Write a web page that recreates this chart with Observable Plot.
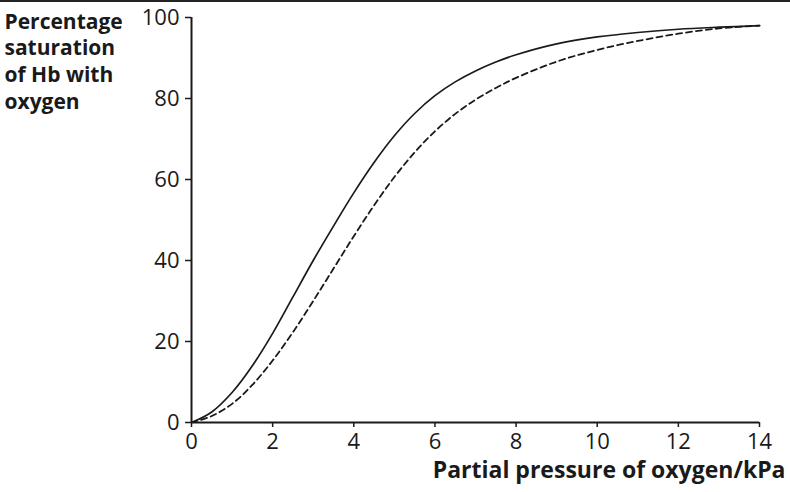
<!DOCTYPE html>
<html>
<head>
<meta charset="utf-8">
<script src="https://cdn.jsdelivr.net/npm/d3@7"></script>
<script src="https://cdn.jsdelivr.net/npm/@observablehq/plot@0.6"></script>
<style>
  html, body { margin: 0; padding: 0; background: #fff; }
  #wrap { position: relative; width: 790px; height: 492px; overflow: hidden; }
  #topline { position: absolute; left: 0; top: 0; width: 790px; height: 2px; background: #222; }
</style>
</head>
<body>
<div id="wrap"><div id="topline"></div></div>
<script>
// Oxygen dissociation curves of haemoglobin
const pressureSolid = [0, 0.5, 1, 1.5, 2, 2.5, 3, 3.5, 4, 4.5, 5, 5.5, 6, 6.5, 7, 7.5, 8, 9, 10, 11, 12, 13, 14];
const saturationSolid = [0, 2.6, 7.4, 14, 22, 31, 40, 48.5, 56.7, 64.2, 70.8, 76.3, 80.7, 84.1, 86.8, 89, 90.8, 93.5, 95.2, 96.3, 97.1, 97.6, 98];

const pressureDashed = [0, 0.5, 1, 1.5, 2, 2.5, 3, 3.5, 4, 4.5, 5, 5.5, 6, 6.5, 7, 7.5, 8, 9, 10, 11, 12, 13, 14];
const saturationDashed = [0, 1.6, 4.6, 9.3, 15.3, 22.3, 30, 38, 46, 53.6, 60.6, 66.7, 71.9, 76.2, 79.7, 82.6, 85.1, 89.1, 92, 94.2, 96, 97.3, 98];

const xTicks = [0, 2, 4, 6, 8, 10, 12, 14];
const yTicks = [0, 20, 40, 60, 80, 100];

const yTitle = "Percentage\nsaturation\nof Hb with\noxygen";
const xTitle = "Partial pressure of oxygen/kPa";

const solid = pressureSolid.map((p, i) => ({p, s: saturationSolid[i]}));
const dashed = pressureDashed.map((p, i) => ({p, s: saturationDashed[i]}));

const ink = "#1a1a1a";
const font = "'Open Sans', 'Noto Sans', sans-serif";

const chart = Plot.plot({
  width: 790,
  height: 492,
  marginLeft: 191,
  marginRight: 31,
  marginTop: 17,
  marginBottom: 70,
  style: {fontFamily: font, fontSize: "22px", color: ink, background: "#fff"},
  x: {domain: [0, 14]},
  y: {domain: [0, 100]},
  marks: [
    Plot.axisX({ticks: xTicks, tickSize: 5, tickPadding: 6, stroke: ink, strokeWidth: 1.5, fontSize: 22, label: null, tickFormat: d => String(d)}),
    Plot.axisY({ticks: yTicks, tickSize: 6, tickPadding: 6, stroke: ink, strokeWidth: 1.5, fontSize: 22, label: null, tickFormat: d => String(d)}),
    Plot.ruleY([0], {stroke: ink, strokeWidth: 2}),
    Plot.ruleX([0], {stroke: ink, strokeWidth: 2}),
    Plot.line(dashed, {x: "p", y: "s", stroke: ink, strokeWidth: 1.8, strokeDasharray: "6,4", curve: "catmull-rom"}),
    Plot.line(solid, {x: "p", y: "s", stroke: ink, strokeWidth: 1.7, curve: "catmull-rom"}),
    Plot.text([yTitle], {
      frameAnchor: "top-left", dx: -187, dy: -8, text: d => d,
      textAnchor: "start", lineAnchor: "top", lineHeight: 1.28,
      fontSize: 21, fontWeight: "bold", fill: ink
    }),
    Plot.text([xTitle], {
      frameAnchor: "bottom-right", dx: 26, dy: 48, text: d => d,
      textAnchor: "end", lineAnchor: "middle",
      fontSize: 23, fontWeight: "bold", fill: ink
    })
  ]
});

document.getElementById("wrap").appendChild(chart);
</script>
</body>
</html>
